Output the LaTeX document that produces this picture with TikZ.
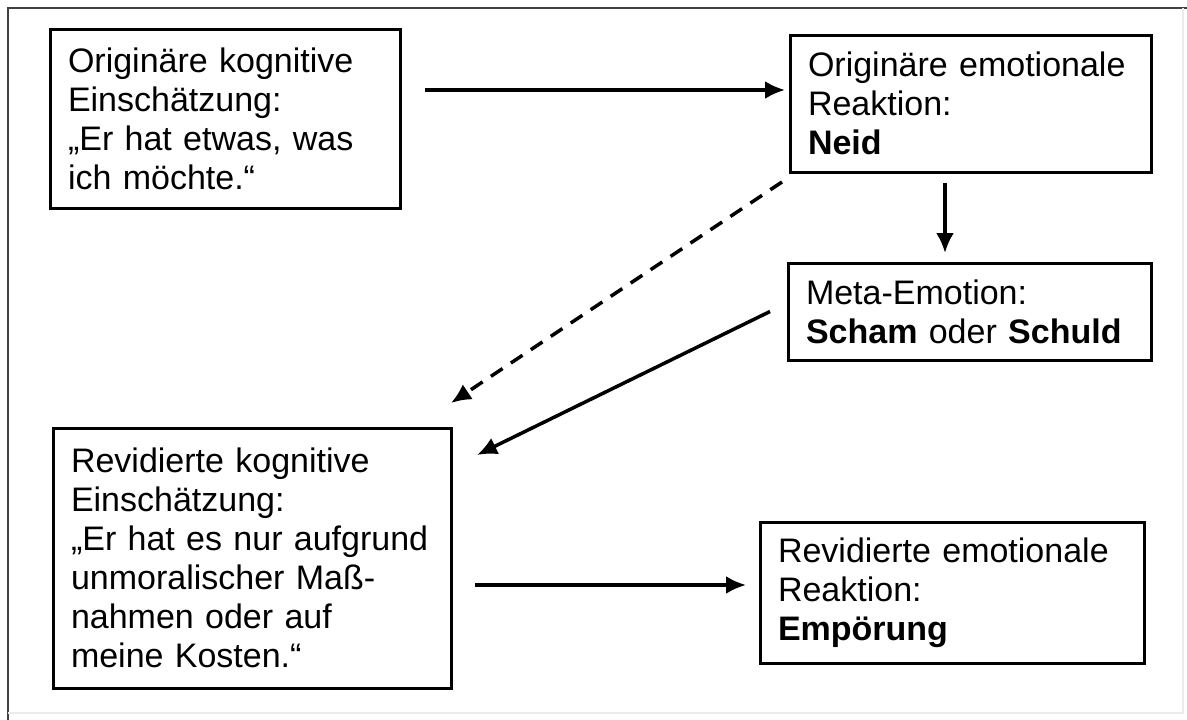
\documentclass[tikz,border=0pt]{standalone}
\usepackage{fontspec}
\setmainfont{Liberation Sans}
\usepackage{tikz}
\usetikzlibrary{arrows.meta}

\begin{document}
\begin{tikzpicture}[x=1pt, y=-1pt,
  box/.style={draw, line width=3pt, anchor=north west, outer sep=0pt, inner xsep=18pt, inner ysep=0pt, align=left, font=\fontsize{34}{39}\selectfont},
  arrow/.style={-{Latex[length=20pt,width=18pt]}, line width=3.5pt},
  frame/.style={line width=2pt}]
  \useasboundingbox (0,0) rectangle (1187,720);
  \draw[frame, black!75] (8,720) -- (8,8) -- (1187,8);
  \draw[frame, black!8] (1183,8) -- (1183,713) -- (8,713);
  \node[box, text width=314pt, minimum height=179pt] (origcog) at (50,29) {Originäre kognitive\\Einschätzung:\\„Er hat etwas, was\\ich möchte.“};
  \node[box, text width=325pt, minimum height=137pt] (origemo) at (790,35) {Originäre emotionale\\Reaktion:\\\textbf{Neid}};
  \node[box, text width=327pt, minimum height=97pt] (meta) at (788,263) {Meta-Emotion:\\\textbf{Scham} oder \textbf{Schuld}};
  \node[box, text width=362pt, minimum height=260pt] (revcog) at (53,428) {Revidierte kognitive\\Einschätzung:\\„Er hat es nur aufgrund\\unmoralischer Maß-\\nahmen oder auf\\meine Kosten.“};
  \node[box, text width=348pt, minimum height=141pt] (revemo) at (760,522) {Revidierte emotionale\\Reaktion:\\\textbf{Empörung}};
  \draw[arrow, shorten <=25pt, shorten >=5pt] (origcog.east |- 0,90) -- (origemo.west |- 0,90);
  \draw[arrow, shorten <=11pt, shorten >=10pt] (origemo.south -| 945,0) -- (meta.north -| 945,0);
  \draw[arrow, dash pattern=on 14pt off 10pt] ([xshift=-8pt,yshift=-10pt]origemo.south west) -- ([yshift=25pt]revcog.north east);
  \draw[arrow] ([xshift=-18pt]meta.west) -- ([xshift=26pt,yshift=-27pt]revcog.north east);
  \draw[arrow, shorten <=24pt, shorten >=14pt] (revcog.east |- 0,585) -- (revemo.west |- 0,585);
\end{tikzpicture}
\end{document}
